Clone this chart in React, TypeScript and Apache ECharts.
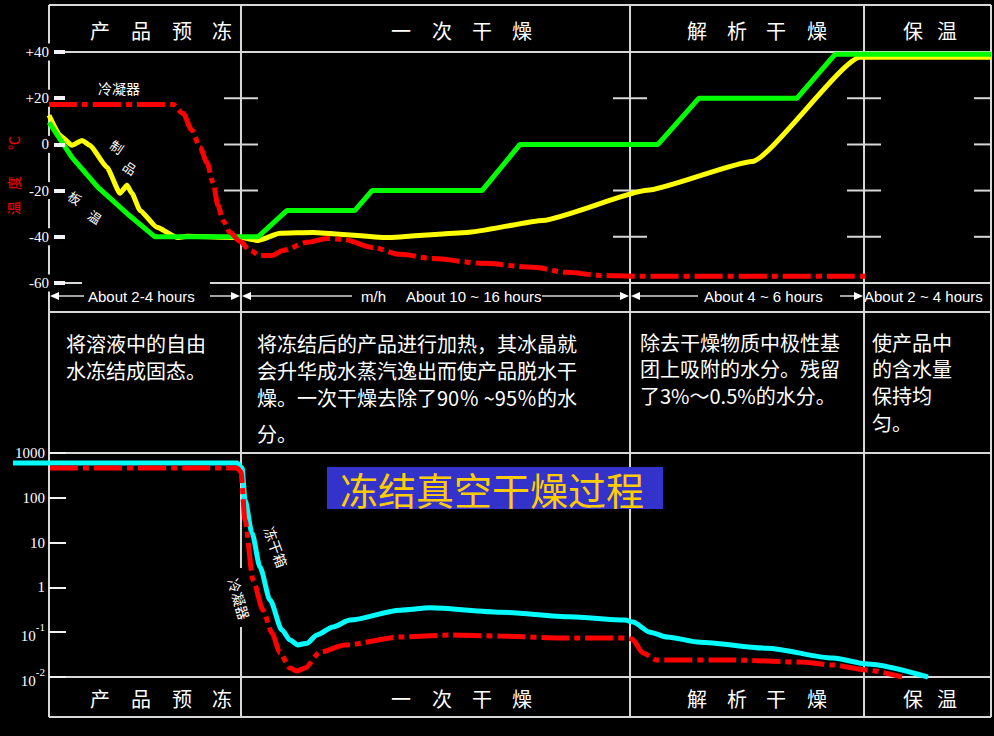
import React, { useEffect, useRef } from 'react';
import * as echarts from 'echarts';

// ---------- DATA (time in relative units 0..100 across the process, temperatures in °C, pressures in Pa) ----------
const phaseBounds = [0, 20.38, 61.68, 86.52, 100];
const tempTicks = [20, 0, -20, -40];

// condenser temperature (top, red dash-dot)
const condenserTimeTop = [0, 13.16, 14.23, 15.18, 16.03, 16.77, 17.41, 17.94, 18.47, 19.21, 20.28, 21.34, 22.4, 23.67, 24.84, 27.39, 29.51, 31.21, 34.39, 37.26, 40.76, 46.07, 51.38, 54.99, 58.49, 62.74, 87.15];
const condenserTempTop = [17.3, 17.3, 13.4, 6.1, -1.3, -7.8, -16.5, -26.4, -32.9, -38.1, -42, -45.9, -48.1, -48.1, -45.9, -42.4, -40.7, -41.1, -44.6, -47.6, -49.4, -51.5, -53.2, -55.4, -56.7, -57.1, -57.1];

// shelf temperature (green)
const shelfTime = [0, 2.44, 5.2, 8.28, 11.25, 22.19, 25.27, 32.48, 34.29, 45.97, 50.0, 64.65, 69.0, 79.41, 83.44, 100];
const shelfTemp = [9.5, -5.6, -18.6, -29.9, -40, -40, -28.6, -28.6, -20, -20, 0, 0, 20, 20, 39, 39];

// product temperature (yellow)
const productTime = [0, 1.17, 2.44, 3.5, 4.35, 6.16, 7.54, 8.28, 8.81, 9.66, 11.46, 13.59, 14.65, 20.38, 22.19, 24.52, 28.03, 35.88, 44.37, 52.44, 63.48, 74.63, 86.09, 100];
const productTemp = [12.6, 3.9, -0.4, 1.7, -0.4, -10, -21.2, -17.7, -21.2, -28.6, -35.9, -40.3, -39.8, -40.3, -41.6, -38.5, -38.1, -40.3, -38.1, -32.9, -19.9, -7.4, 37.7, 37.7];

// chamber pressure (bottom, cyan)
const chamberTime = [-3.82, 19.96, 20.49, 20.81, 21.55, 22.4, 23.46, 24.73, 25.58, 26.43, 27.39, 28.45, 30.15, 31.95, 37.26, 40.45, 47.88, 55.31, 61.15, 62.0, 63.8, 65.61, 69.11, 76.22, 83.23, 86.84, 93.31];
const chamberPressure = [598, 598, 462, 89, 16.4, 2.85, 0.524, 0.112, 0.067, 0.052, 0.057, 0.087, 0.131, 0.187, 0.31, 0.35, 0.28, 0.22, 0.187, 0.169, 0.1, 0.078, 0.06, 0.044, 0.0265, 0.0195, 0.01];

// condenser pressure (bottom, red dash-dot)
const condenserTimeBottom = [0.11, 19.96, 20.38, 20.81, 21.66, 22.72, 23.67, 24.52, 25.58, 26.33, 27.18, 28.77, 31.42, 37.26, 42.57, 47.88, 54.25, 61.15, 61.89, 63.06, 64.54, 72.61, 79.72, 83.23, 86.84, 90.55];
const condenserPressureBottom = [462, 462, 377, 31.9, 1.46, 0.31, 0.096, 0.0344, 0.0159, 0.0136, 0.0159, 0.036, 0.0518, 0.078, 0.0865, 0.082, 0.0743, 0.0743, 0.0705, 0.0344, 0.0239, 0.0239, 0.0216, 0.0185, 0.0143, 0.01];

const phaseNames = ['产品预冻', '一次干燥', '解析干燥', '保温'];
const phaseDescriptions = [
  ['将溶液中的自由', '水冻结成固态。'],
  ['将冻结后的产品进行加热，其冰晶就', '会升华成水蒸汽逸出而使产品脱水干', '燥。一次干燥去除了90％ ~95％的水'],
  ['除去干燥物质中极性基', '团上吸附的水分。残留', '了3%～0.5%的水分。'],
  ['使产品中', '的含水量', '保持均', '匀。'],
];
const durationLabels = ['About 2-4 hours', 'About 10 ~ 16 hours', 'About 4 ~ 6 hours', 'About 2 ~ 4 hours'];
const titleText = '冻结真空干燥过程';

// ---------- LAYOUT ----------
const FRAME_L = 49;
const FRAME_R = 991;
const PX_PER_UNIT = (FRAME_R - FRAME_L) / 100;
const XMIN_B = (13 - FRAME_L) / PX_PER_UNIT;
const TOP_Y0 = 52;
const TOP_H = 231;
const px = (t: number) => FRAME_L + t * PX_PER_UNIT;
const ty = (v: number) => TOP_Y0 + ((40 - v) / 100) * TOP_H;

const LINE = '#d8d8d8';
const CJK = '"Noto Sans CJK SC", "Noto Sans", sans-serif';
const SERIF = '"Liberation Serif", "DejaVu Serif", serif';
const SANS = '"Liberation Sans", Arial, sans-serif';

const pairs = (xs: number[], ys: number[]) => xs.map((x, i) => [x, ys[i]]);

const hl = (x1: number, x2: number, y: number, w = 2) => ({
  type: 'line', silent: true, z: 1,
  shape: { x1, y1: y, x2, y2: y },
  style: { stroke: LINE, lineWidth: w },
});
const vl = (x: number, y1: number, y2: number, w = 2) => ({
  type: 'line', silent: true, z: 1,
  shape: { x1: x, y1, x2: x, y2 },
  style: { stroke: LINE, lineWidth: w },
});
const txt = (text: string, x: number, y: number, font: string, fill = '#fff', align = 'left', rotation = 0) => ({
  type: 'text', silent: true, z: 10, x, y, rotation,
  style: { text, font, fill, textAlign: align, textVerticalAlign: 'middle' },
});
const block = (lines: string[], x: number, yFirst: number, lineHeight: number, font: string) => ({
  type: 'text', silent: true, z: 10, x, y: yFirst - lineHeight / 2,
  style: { text: lines.join('\n'), font, fill: '#fff', lineHeight, textAlign: 'left', textVerticalAlign: 'top' },
});
const arrow = (tip: number, dir: number, y: number) => ({
  type: 'polygon', silent: true, z: 10,
  shape: { points: [[tip, y], [tip - dir * 9, y - 4], [tip - dir * 9, y + 4]] },
  style: { fill: '#fff' },
});

function buildGraphics() {
  const els: any[] = [];
  const bx = phaseBounds.map(px);
  // horizontal frame lines
  els.push(hl(FRAME_L, FRAME_R, 5));
  els.push(hl(FRAME_L, FRAME_R, TOP_Y0));
  els.push(hl(210, FRAME_R, TOP_Y0 + TOP_H));
  els.push(hl(FRAME_L, 82, TOP_Y0 + TOP_H));
  els.push(hl(FRAME_L, FRAME_R, 312));
  els.push(hl(FRAME_L, FRAME_R, 453));
  els.push(hl(FRAME_L, FRAME_R, 677));
  els.push(hl(FRAME_L, FRAME_R, 717));
  // vertical lines
  els.push(vl(bx[0], 5, 717));
  els.push(vl(bx[1], 5, 568));
  els.push(vl(bx[1], 627, 717));
  els.push(vl(bx[2], 5, 717));
  els.push(vl(bx[3], 5, 717));
  els.push(vl(bx[4], 5, 717));
  // ticks on the dividers of the temperature chart
  [bx[1], bx[2], bx[3], bx[4]].forEach((x) => {
    tempTicks.forEach((v) => {
      els.push(hl(x - 17, Math.min(x + 17, FRAME_R), ty(v)));
    });
  });
  // phase headers, top and bottom
  const headerCenters = [
    [100, 141, 182, 222],
    [401, 442, 482, 522],
    [697, 737, 776, 817],
    [913, 947],
  ];
  phaseNames.forEach((name, i) => {
    name.split('').forEach((ch, j) => {
      els.push(txt(ch, headerCenters[i][j], 30, `20px ${CJK}`, '#fff', 'center'));
      els.push(txt(ch, headerCenters[i][j], 698, `20px ${CJK}`, '#fff', 'center'));
    });
  });
  // descriptions
  els.push(block(phaseDescriptions[0], 66, 343, 27, `20px ${CJK}`));
  els.push(block(phaseDescriptions[1], 257, 343, 27, `20px ${CJK}`));
  els.push(txt('分。', 257, 433, `20px ${CJK}`));
  els.push(block(phaseDescriptions[2], 640, 342, 26.5, `20px ${CJK}`));
  els.push(block(phaseDescriptions[3], 872, 342, 26.7, `20px ${CJK}`));

  // duration row
  const ry = 296;
  const sf = `15px ${SANS}`;
  els.push(arrow(50, -1, ry));
  els.push(hl(59, 84, ry, 1.5));
  els.push(txt(durationLabels[0], 88, ry, sf));
  els.push(hl(210, 232, ry, 1.5));
  els.push(arrow(240, 1, ry));
  els.push(arrow(242, -1, ry));
  els.push(hl(251, 352, ry, 1.5));
  els.push(txt('m/h', 361, ry, sf));
  els.push(txt(durationLabels[1], 406, ry, sf));
  els.push(hl(542, 621, ry, 1.5));
  els.push(arrow(629, 1, ry));
  els.push(arrow(631, -1, ry));
  els.push(hl(640, 698, ry, 1.5));
  els.push(txt(durationLabels[2], 704, ry, sf));
  els.push(hl(840, 856, ry, 1.5));
  els.push(arrow(863, 1, ry));
  els.push(txt(durationLabels[3], 864, ry, sf));

  // title
  els.push({
    type: 'rect', silent: true, z: 9,
    shape: { x: 327, y: 467, width: 336, height: 42 },
    style: { fill: '#3333cc' },
  });
  els.push(txt(titleText, 492, 488, `38px ${CJK}`, '#ffcc00', 'center'));

  // small curve labels
  els.push(txt('冷凝器', 119, 88, `14px ${CJK}`, '#fff', 'center'));
  els.push(txt('制', 117, 147, `13px ${CJK}`, '#fff', 'center', -0.6));
  els.push(txt('品', 130, 168, `13px ${CJK}`, '#fff', 'center', -0.6));
  els.push(txt('板', 75, 198, `13px ${CJK}`, '#fff', 'center', -0.6));
  els.push(txt('温', 95, 217, `13px ${CJK}`, '#fff', 'center', -0.6));
  els.push(txt('冻干箱', 276, 547, `14px ${CJK}`, '#fff', 'center', -1.22));
  els.push(txt('冷凝器', 239, 599, `14px ${CJK}`, '#fff', 'center', -1.28));
  // y axis name (red)
  els.push(txt('温', 13, 208, `14px ${CJK}`, '#ff0000', 'center', Math.PI / 2));
  els.push(txt('度', 13, 183, `14px ${CJK}`, '#ff0000', 'center', Math.PI / 2));
  els.push(txt('℃', 13, 143, `14px ${CJK}`, '#ff0000', 'center', Math.PI / 2));
  return els;
}

const dashDot = [28, 5, 6, 5];

function buildOption(): any {
  return {
    backgroundColor: '#000',
    animation: false,
    grid: [
      { left: FRAME_L, right: 994 - FRAME_R, top: TOP_Y0, height: TOP_H },
      { left: 13, right: 994 - FRAME_R, top: 453, height: 224 },
    ],
    xAxis: [
      { type: 'value', gridIndex: 0, min: 0, max: 100, show: false },
      { type: 'value', gridIndex: 1, min: XMIN_B, max: 100, show: false },
    ],
    yAxis: [
      {
        type: 'value', gridIndex: 0, min: -60, max: 40, interval: 20, z: 5,
        axisLine: { show: false },
        splitLine: { show: false },
        axisTick: { show: true, inside: true, length: 16, lineStyle: { color: '#f2f2f2', width: 4 } },
        axisLabel: {
          margin: -5, color: '#fff', fontFamily: SERIF, fontSize: 15,
          backgroundColor: '#000', padding: [1, 5, 1, 1],
          formatter: (v: number) => (v > 0 ? '+' + v : String(v)),
        },
      },
      {
        type: 'log', gridIndex: 1, logBase: 10, min: 0.01, max: 1000, offset: -36, z: 5,
        axisLine: { show: false },
        splitLine: { show: false },
        axisTick: { show: true, inside: true, length: 17, lineStyle: { color: '#f2f2f2', width: 2 } },
        axisLabel: {
          margin: 4, color: '#fff', fontFamily: SERIF, fontSize: 15,
          formatter: (v: number) => {
            const e = Math.round(Math.log10(v));
            return e >= 0 ? String(Math.pow(10, e)) : `{b|10}{s|${e}}`;
          },
          rich: {
            b: { fontFamily: SERIF, fontSize: 15, color: '#fff', lineHeight: 22, verticalAlign: 'bottom' },
            s: { fontFamily: SERIF, fontSize: 11, color: '#fff', lineHeight: 22, verticalAlign: 'top' },
          },
        },
      },
    ],
    series: [
      {
        name: '制品', type: 'line', xAxisIndex: 0, yAxisIndex: 0, symbol: 'none', clip: false,
        smooth: 0.15, smoothMonotone: 'x',
        data: pairs(productTime, productTemp),
        lineStyle: { color: '#ffff00', width: 5 }, z: 3,
      },
      {
        name: '板温', type: 'line', xAxisIndex: 0, yAxisIndex: 0, symbol: 'none', clip: false,
        data: pairs(shelfTime, shelfTemp),
        lineStyle: { color: '#00ff00', width: 5 }, z: 4,
      },
      {
        name: '冷凝器', type: 'line', xAxisIndex: 0, yAxisIndex: 0, symbol: 'none', clip: false,
        smooth: 0.3, smoothMonotone: 'x',
        data: pairs(condenserTimeTop, condenserTempTop),
        lineStyle: { color: '#ff0000', width: 5, type: dashDot }, z: 5,
      },
      {
        name: '冻干箱', type: 'line', xAxisIndex: 1, yAxisIndex: 1, symbol: 'none', clip: false,
        smooth: 0.25, smoothMonotone: 'x',
        data: pairs(chamberTime, chamberPressure),
        lineStyle: { color: '#00ffff', width: 5 }, z: 3,
      },
      {
        name: '冷凝器压力', type: 'line', xAxisIndex: 1, yAxisIndex: 1, symbol: 'none', clip: false,
        smooth: 0.25, smoothMonotone: 'x',
        data: pairs(condenserTimeBottom, condenserPressureBottom),
        lineStyle: { color: '#ff0000', width: 5, type: dashDot }, z: 4,
      },
    ],
    graphic: { elements: buildGraphics() },
  };
}

export default function App() {
  const ref = useRef<HTMLDivElement>(null);
  useEffect(() => {
    if (!ref.current) return;
    const chart = echarts.init(ref.current, null, { renderer: 'svg' });
    chart.setOption(buildOption());
    return () => chart.dispose();
  }, []);
  return (
    <div
      ref={ref}
      style={{ position: 'fixed', left: 0, top: 0, width: 994, height: 736, background: '#000' }}
    />
  );
}
